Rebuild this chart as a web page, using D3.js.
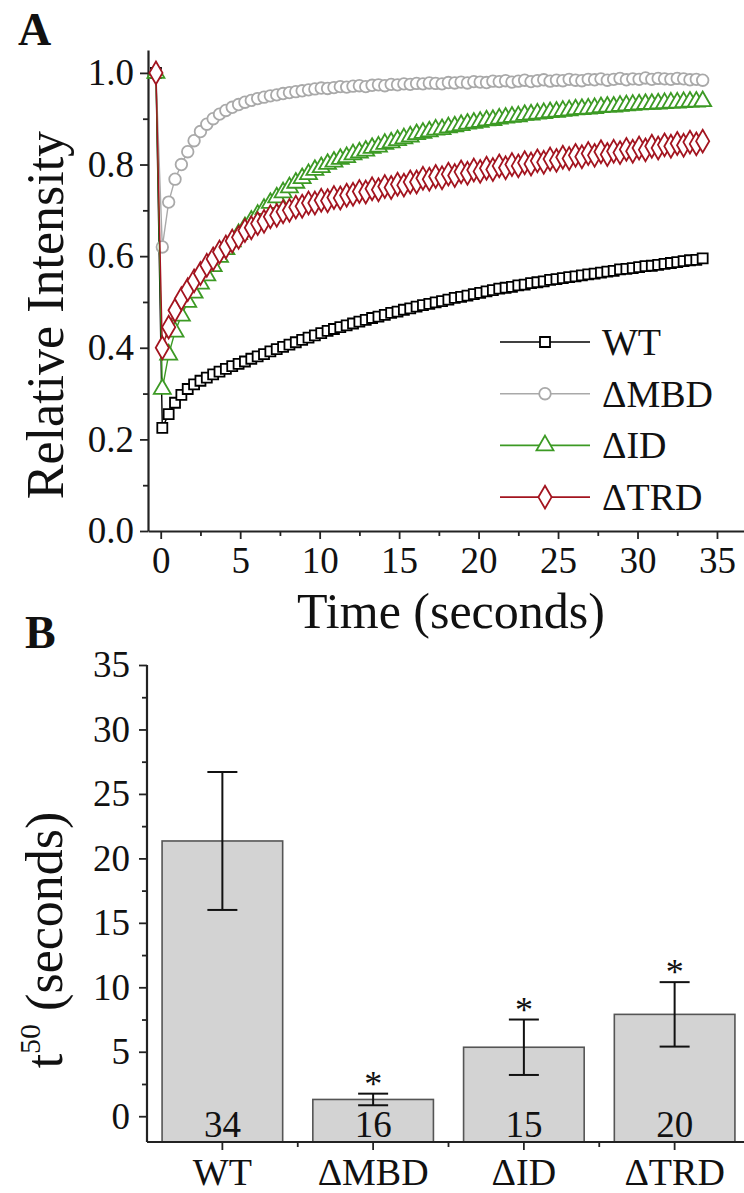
<!DOCTYPE html>
<html>
<head>
<meta charset="utf-8">
<script src="https://cdn.jsdelivr.net/npm/d3@7"></script>
<style>
  body { margin: 0; background: #fff; }
  svg text { font-family: "Liberation Serif", "Tinos", "DejaVu Serif", serif; fill: #111; }
</style>
</head>
<body>
<div id="chart"></div>
<script>
// 1. DATA
// panel A: FRAP recovery, one frame every 0.4 s after the bleach
const seriesNames = ["WT", "ΔMBD", "ΔID", "ΔTRD"];
const preBleachTime = -0.3;
const preBleachValue = 1.0;
const frameStart = 0.1;
const frameStep = 0.4;

const wtValues = [
  0.225, 0.255, 0.280, 0.297, 0.310, 0.320, 0.328, 0.335, 0.342, 0.348,
  0.354, 0.360, 0.365, 0.370, 0.376, 0.381, 0.386, 0.392, 0.397, 0.402,
  0.407, 0.412, 0.417, 0.422, 0.427, 0.432, 0.437, 0.441, 0.445, 0.449,
  0.453, 0.457, 0.461, 0.465, 0.468, 0.472, 0.476, 0.479, 0.483, 0.486,
  0.490, 0.493, 0.496, 0.499, 0.502, 0.505, 0.509, 0.511, 0.514, 0.517,
  0.520, 0.523, 0.526, 0.529, 0.531, 0.533, 0.536, 0.538, 0.541, 0.543,
  0.545, 0.548, 0.550, 0.552, 0.554, 0.556, 0.558, 0.560, 0.562, 0.564,
  0.566, 0.568, 0.571, 0.572, 0.574, 0.576, 0.578, 0.579, 0.581, 0.583,
  0.585, 0.587, 0.589, 0.591, 0.592, 0.595
];
const mbdValues = [
  0.620, 0.718, 0.768, 0.800, 0.828, 0.852, 0.872, 0.888, 0.900, 0.910,
  0.918, 0.925, 0.931, 0.936, 0.940, 0.944, 0.947, 0.950, 0.952, 0.955,
  0.957, 0.959, 0.961, 0.963, 0.965, 0.967, 0.966, 0.968, 0.970, 0.969,
  0.971, 0.972, 0.970, 0.973, 0.974, 0.972, 0.975, 0.974, 0.976, 0.975,
  0.977, 0.976, 0.978, 0.977, 0.976, 0.979, 0.978, 0.980, 0.978, 0.981,
  0.980, 0.979, 0.982, 0.981, 0.983, 0.980, 0.982, 0.984, 0.981, 0.983,
  0.985, 0.982, 0.984, 0.983, 0.986, 0.984, 0.983, 0.986, 0.985, 0.987,
  0.984, 0.986, 0.988, 0.985, 0.987, 0.986, 0.989, 0.986, 0.988, 0.987,
  0.986, 0.988, 0.987, 0.985, 0.986, 0.984
];
const idValues = [
  0.310, 0.385, 0.435, 0.470, 0.500, 0.520, 0.540, 0.558, 0.578, 0.598,
  0.615, 0.632, 0.648, 0.663, 0.677, 0.690, 0.703, 0.716, 0.728, 0.739,
  0.750, 0.760, 0.770, 0.779, 0.788, 0.794, 0.801, 0.806, 0.812, 0.816,
  0.822, 0.826, 0.830, 0.836, 0.839, 0.845, 0.848, 0.853, 0.857, 0.861,
  0.866, 0.869, 0.872, 0.876, 0.877, 0.881, 0.883, 0.886, 0.889, 0.891,
  0.893, 0.896, 0.897, 0.900, 0.902, 0.904, 0.905, 0.908, 0.909, 0.911,
  0.912, 0.914, 0.915, 0.917, 0.918, 0.920, 0.921, 0.922, 0.923, 0.925,
  0.926, 0.926, 0.928, 0.929, 0.930, 0.931, 0.932, 0.932, 0.933, 0.934,
  0.935, 0.935, 0.936, 0.937, 0.937, 0.938
];
const trdValues = [
  0.400, 0.445, 0.482, 0.507, 0.527, 0.546, 0.562, 0.580, 0.594, 0.609,
  0.620, 0.633, 0.641, 0.656, 0.662, 0.671, 0.676, 0.686, 0.689, 0.697,
  0.700, 0.707, 0.709, 0.716, 0.716, 0.722, 0.721, 0.728, 0.727, 0.733,
  0.735, 0.741, 0.740, 0.747, 0.745, 0.752, 0.750, 0.757, 0.755, 0.762,
  0.762, 0.770, 0.768, 0.774, 0.771, 0.779, 0.776, 0.784, 0.781, 0.788,
  0.785, 0.792, 0.789, 0.797, 0.793, 0.800, 0.797, 0.804, 0.801, 0.808,
  0.805, 0.812, 0.809, 0.816, 0.813, 0.820, 0.817, 0.824, 0.820, 0.828,
  0.822, 0.829, 0.826, 0.833, 0.829, 0.836, 0.832, 0.840, 0.836, 0.843,
  0.840, 0.846, 0.842, 0.849, 0.845, 0.851
];

const timeTicks = [0, 5, 10, 15, 20, 25, 30, 35];
const intensityTicks = [0, 0.2, 0.4, 0.6, 0.8, 1.0];

// panel B: half-recovery time
const barCategories = ["WT", "ΔMBD", "ΔID", "ΔTRD"];
const t50Means = [21.35, 1.3, 5.35, 7.9];
const t50Errors = [5.35, 0.45, 2.15, 2.5];
const cellCounts = [34, 16, 15, 20];
const significant = [false, true, true, true];
const t50Ticks = [0, 5, 10, 15, 20, 25, 30, 35];

// 2. SETUP
const width = 744, height = 1193;
const serif = '"Liberation Serif", "Tinos", "DejaVu Serif", serif';
const svg = d3.select("#chart").append("svg")
    .attr("width", width)
    .attr("height", height);

const seriesStyle = [
    { color: "#000000", symbol: d3.symbolSquare, size: 100 },
    { color: "#a9a9a9", symbol: d3.symbolCircle, size: 105 },
    { color: "#3c9a24", symbol: d3.symbolTriangle, size: 125 },
    { color: "#a3141f", symbol: d3.symbolDiamond, size: 150 }
];
const seriesValues = [wtValues, mbdValues, idValues, trdValues];

// turn values into points (pre-bleach frame first)
const series = seriesNames.map((name, k) => {
    const pts = [{ t: preBleachTime, v: preBleachValue }];
    seriesValues[k].forEach((v, i) => pts.push({ t: frameStart + i * frameStep, v: v }));
    return { name: name, points: pts, style: seriesStyle[k] };
});

// 3. PANEL A
const xA = d3.scaleLinear().domain([-0.8, 36.7]).range([148, 744]);
const yA = d3.scaleLinear().domain([0, 1.05]).range([531, 50]);

const gA = svg.append("g");

// minor ticks
gA.append("g")
    .attr("transform", "translate(0,531)")
    .call(d3.axisBottom(xA).tickValues(timeTicks.map(d => d + 2.5)).tickSize(5).tickFormat(""))
    .call(g => g.select(".domain").remove());
gA.append("g")
    .attr("transform", "translate(148,0)")
    .call(d3.axisLeft(yA).tickValues(intensityTicks.slice(0, -1).map(d => d + 0.1)).tickSize(5).tickFormat(""))
    .call(g => g.select(".domain").remove());

const xAxisA = gA.append("g")
    .attr("transform", "translate(0,531)")
    .call(d3.axisBottom(xA).tickValues(timeTicks).tickSize(8).tickSizeOuter(0).tickPadding(8));
const yAxisA = gA.append("g")
    .attr("transform", "translate(148,0)")
    .call(d3.axisLeft(yA).tickValues(intensityTicks).tickFormat(d3.format(".1f")).tickSize(8).tickSizeOuter(0).tickPadding(6));

[xAxisA, yAxisA].forEach(ax => {
    ax.attr("font-family", serif);
    ax.select(".domain").attr("stroke", "#222").attr("stroke-width", 2.2);
    ax.selectAll("text").style("font-size", "37px").attr("fill", "#111");
});
gA.selectAll(".tick line").attr("stroke", "#222").attr("stroke-width", 1.8);

// lines then markers, series in order
const lineA = d3.line().x(d => xA(d.t)).y(d => yA(d.v));
series.forEach(s => {
    const g = gA.append("g");
    g.append("path")
        .attr("d", lineA(s.points))
        .attr("fill", "none")
        .attr("stroke", s.style.color)
        .attr("stroke-width", 1.4);
    g.selectAll("path.pt")
        .data(s.points)
        .enter().append("path")
        .attr("class", "pt")
        .attr("transform", d => `translate(${xA(d.t)},${yA(d.v)})`)
        .attr("d", d3.symbol().type(s.style.symbol).size(s.style.size))
        .attr("fill", "#fff")
        .attr("stroke", s.style.color)
        .attr("stroke-width", 1.8);
});

// legend
const legend = gA.append("g");
series.forEach((s, i) => {
    const y = 342 + i * 51.7;
    legend.append("line")
        .attr("x1", 500).attr("x2", 590).attr("y1", y).attr("y2", y)
        .attr("stroke", s.style.color).attr("stroke-width", 1.6);
    legend.append("path")
        .attr("transform", `translate(545,${y})`)
        .attr("d", d3.symbol().type(s.style.symbol).size(s.style.size))
        .attr("fill", "#fff")
        .attr("stroke", s.style.color)
        .attr("stroke-width", 1.8);
    legend.append("text")
        .attr("x", 602).attr("y", y + 13)
        .attr("font-family", serif)
        .style("font-size", "38px")
        .text(s.name);
});

// titles
gA.append("text")
    .attr("transform", "translate(63,315) rotate(-90)")
    .attr("text-anchor", "middle")
    .attr("font-family", serif)
    .style("font-size", "52px")
    .text("Relative Intensity");
gA.append("text")
    .attr("x", 451).attr("y", 628)
    .attr("text-anchor", "middle")
    .attr("font-family", serif)
    .style("font-size", "50px")
    .text("Time (seconds)");
svg.append("text")
    .attr("x", 18).attr("y", 45)
    .attr("font-family", serif)
    .style("font-size", "46px").style("font-weight", "bold")
    .text("A");

// 4. PANEL B
const xB = d3.scaleBand().domain(barCategories).range([147, 750]).paddingInner(0.2).paddingOuter(0.1);
const yB = d3.scaleLinear().domain([-2, 35]).range([1142, 665]);
const gB = svg.append("g").attr("font-family", serif);

const bars = barCategories.map((c, i) => ({
    cat: c, mean: t50Means[i], err: t50Errors[i], n: cellCounts[i], sig: significant[i]
}));

gB.selectAll("rect.bar")
    .data(bars)
    .enter().append("rect")
    .attr("class", "bar")
    .attr("x", d => xB(d.cat))
    .attr("width", xB.bandwidth())
    .attr("y", d => yB(d.mean))
    .attr("height", d => yB(-2) - yB(d.mean))
    .attr("fill", "#d3d3d3")
    .attr("stroke", "#555")
    .attr("stroke-width", 1.6);

// error bars
const cx = d => xB(d.cat) + xB.bandwidth() / 2;
const err = gB.selectAll("g.err").data(bars).enter().append("g").attr("class", "err")
    .attr("stroke", "#111").attr("stroke-width", 2);
err.append("line")
    .attr("x1", cx).attr("x2", cx)
    .attr("y1", d => yB(d.mean - d.err)).attr("y2", d => yB(d.mean + d.err));
err.append("line")
    .attr("x1", d => cx(d) - 15).attr("x2", d => cx(d) + 15)
    .attr("y1", d => yB(d.mean + d.err)).attr("y2", d => yB(d.mean + d.err));
err.append("line")
    .attr("x1", d => cx(d) - 15).attr("x2", d => cx(d) + 15)
    .attr("y1", d => yB(d.mean - d.err)).attr("y2", d => yB(d.mean - d.err));

// n counts inside bars
gB.selectAll("text.n")
    .data(bars)
    .enter().append("text")
    .attr("class", "n")
    .attr("x", cx)
    .attr("y", yB(-2) - 5)
    .attr("text-anchor", "middle")
    .style("font-size", "37px")
    .text(d => d.n);

// significance stars
gB.selectAll("text.sig")
    .data(bars.filter(d => d.sig))
    .enter().append("text")
    .attr("class", "sig")
    .attr("x", cx)
    .attr("y", d => yB(d.mean + d.err) + 2)
    .attr("text-anchor", "middle")
    .style("font-size", "36px")
    .text("*");

// axes
gB.append("g")
    .attr("transform", "translate(147,0)")
    .call(d3.axisLeft(yB).tickValues(t50Ticks.slice(0, -1).map(d => d + 2.5)).tickSize(5).tickFormat(""))
    .call(g => g.select(".domain").remove());
const yAxisB = gB.append("g")
    .attr("transform", "translate(147,0)")
    .call(d3.axisLeft(yB).tickValues(t50Ticks).tickSize(8).tickSizeOuter(0).tickPadding(9));
yAxisB.select(".domain").attr("d", `M0,${yB(-2)}V${yB(35)}`);

const xAxisB = gB.append("g")
    .attr("transform", "translate(0,1142)")
    .call(d3.axisBottom(xB).tickSize(8).tickSizeOuter(0).tickPadding(8));
xAxisB.select(".domain").attr("d", "M147,0H744");

// minor ticks between categories
gB.selectAll("line.minor")
    .data(barCategories.slice(1))
    .enter().append("line")
    .attr("class", "minor")
    .attr("x1", d => xB(d) - xB.step() * xB.paddingInner() / 2)
    .attr("x2", d => xB(d) - xB.step() * xB.paddingInner() / 2)
    .attr("y1", yB(-2)).attr("y2", yB(-2) + 5)
    .attr("stroke", "#222").attr("stroke-width", 1.8);

[xAxisB, yAxisB].forEach(ax => {
    ax.attr("font-family", serif);
    ax.select(".domain").attr("stroke", "#222").attr("stroke-width", 2.2);
    ax.selectAll("text").style("font-size", "37px").attr("fill", "#111");
});
xAxisB.selectAll("text").style("font-size", "38px");
gB.selectAll(".tick line").attr("stroke", "#222").attr("stroke-width", 1.8);

// y title with superscript
const yTitleB = gB.append("text")
    .attr("transform", "translate(62,940) rotate(-90)")
    .attr("text-anchor", "middle")
    .style("font-size", "52px");
yTitleB.append("tspan").text("t");
yTitleB.append("tspan").attr("dy", -22).style("font-size", "30px").text("50");
yTitleB.append("tspan").attr("dy", 22).text(" (seconds)");

svg.append("text")
    .attr("x", 25).attr("y", 648)
    .attr("font-family", serif)
    .style("font-size", "46px").style("font-weight", "bold")
    .text("B");
</script>
</body>
</html>
